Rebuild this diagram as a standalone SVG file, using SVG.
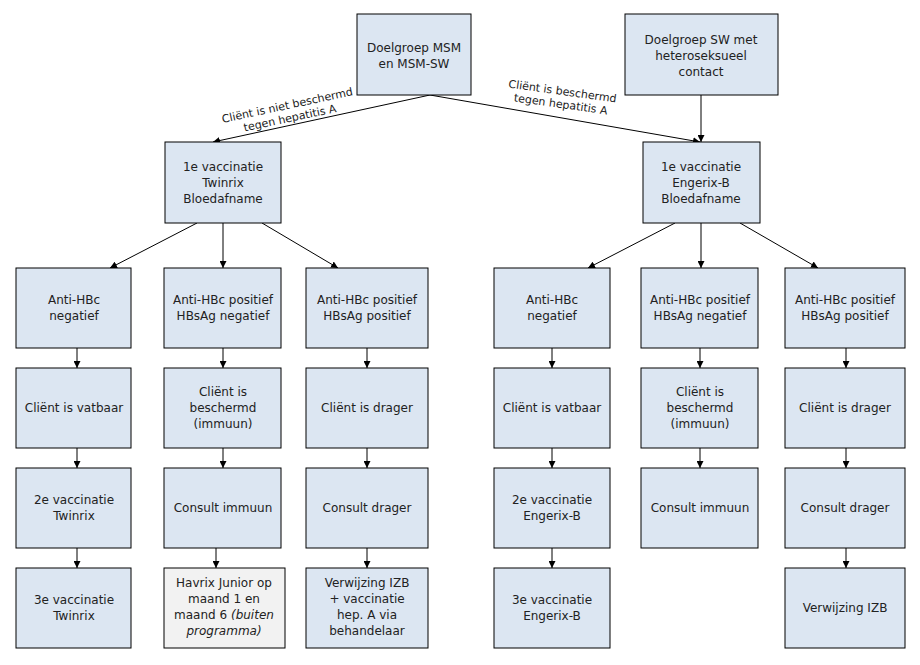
<svg xmlns="http://www.w3.org/2000/svg" width="920" height="665" viewBox="0 0 920 665">
<style>
rect{fill:#dce6f2;stroke:#000;stroke-width:1}
rect.g{fill:#f2f2f2}
text{font-family:"DejaVu Sans",Verdana,sans-serif;font-size:12px;fill:#222;text-anchor:middle}
.lbl{font-size:11px}
#connectors line{stroke:#000;stroke-width:1;marker-end:url(#a)}
</style>
<defs><marker id="a" viewBox="0 0 10 10" refX="10" refY="5" markerWidth="7" markerHeight="7" orient="auto"><path d="M0,0L10,5L0,10z" fill="#000"/></marker></defs>
<rect x="0" y="0" width="920" height="665" style="fill:#fff;stroke:none"/>
<g id="connectors">
<line x1="430" y1="95" x2="213" y2="142"/>
<line x1="430" y1="95" x2="700" y2="142"/>
<line x1="701" y1="95" x2="701" y2="142"/>
<line x1="197" y1="223" x2="110" y2="268"/>
<line x1="223" y1="223" x2="223" y2="268"/>
<line x1="262" y1="223" x2="338" y2="268"/>
<line x1="675" y1="223" x2="588" y2="268"/>
<line x1="701" y1="223" x2="701" y2="268"/>
<line x1="740" y1="223" x2="818" y2="268"/>
<line x1="77" y1="348" x2="77" y2="368"/><line x1="77" y1="448" x2="77" y2="468"/><line x1="77" y1="548" x2="77" y2="568"/>
<line x1="223" y1="348" x2="223" y2="368"/><line x1="223" y1="448" x2="223" y2="468"/><line x1="216" y1="548" x2="216" y2="568"/>
<line x1="367" y1="348" x2="367" y2="368"/><line x1="367" y1="448" x2="367" y2="468"/><line x1="367" y1="548" x2="367" y2="568"/>
<line x1="552" y1="348" x2="552" y2="368"/><line x1="552" y1="448" x2="552" y2="468"/><line x1="552" y1="548" x2="552" y2="568"/>
<line x1="700" y1="348" x2="700" y2="368"/><line x1="700" y1="448" x2="700" y2="468"/>
<line x1="846" y1="348" x2="846" y2="368"/><line x1="846" y1="448" x2="846" y2="468"/><line x1="846" y1="548" x2="846" y2="568"/>
<text class="lbl" transform="translate(288,109) rotate(-12)"><tspan x="0" y="0">Cliënt is niet beschermd</tspan><tspan x="0" y="13">tegen hepatitis A</tspan></text>
<text class="lbl" transform="translate(562,95) rotate(8)"><tspan x="0" y="0">Cliënt is beschermd</tspan><tspan x="0" y="13">tegen hepatitis A</tspan></text>
</g>
<g id="msm"><rect x="357" y="14" width="114" height="81"/><text x="414" y="52">Doelgroep  MSM</text><text x="414" y="68">en MSM-SW</text></g>
<g id="sw"><rect x="625" y="14" width="153" height="81"/><text x="701" y="44">Doelgroep  SW met</text><text x="701" y="60">heteroseksueel</text><text x="701" y="76">contact</text></g>
<g id="twinrix1"><rect x="165" y="142" width="116" height="81"/><text x="223" y="171">1e vaccinatie</text><text x="223" y="187">Twinrix</text><text x="223" y="203">Bloedafname</text></g>
<g id="engerix1"><rect x="643" y="142" width="117" height="81"/><text x="701" y="171">1e vaccinatie</text><text x="701" y="187">Engerix-B</text><text x="701" y="203">Bloedafname</text></g>
<g id="l1"><rect x="16" y="268" width="115" height="80"/><text x="74" y="304">Anti-HBc</text><text x="74" y="320">negatief</text></g>
<g id="l2"><rect x="164" y="268" width="117" height="80"/><text x="223" y="304">Anti-HBc positief</text><text x="223" y="320">HBsAg negatief</text></g>
<g id="l3"><rect x="306" y="268" width="122" height="80"/><text x="367" y="304">Anti-HBc positief</text><text x="367" y="320">HBsAg positief</text></g>
<g id="r1"><rect x="494" y="268" width="116" height="80"/><text x="552" y="304">Anti-HBc</text><text x="552" y="320">negatief</text></g>
<g id="r2"><rect x="641" y="268" width="117" height="80"/><text x="700" y="304">Anti-HBc positief</text><text x="700" y="320">HBsAg negatief</text></g>
<g id="r3"><rect x="785" y="268" width="120" height="80"/><text x="845" y="304">Anti-HBc positief</text><text x="845" y="320">HBsAg positief</text></g>
<g id="l4"><rect x="16" y="368" width="115" height="80"/><text x="74" y="412">Cliënt is vatbaar</text></g>
<g id="l5"><rect x="164" y="368" width="117" height="80"/><text x="223" y="396">Cliënt is</text><text x="223" y="412">beschermd</text><text x="223" y="428">(immuun)</text></g>
<g id="l6"><rect x="306" y="368" width="122" height="80"/><text x="367" y="412">Cliënt is drager</text></g>
<g id="r4"><rect x="494" y="368" width="116" height="80"/><text x="552" y="412">Cliënt is vatbaar</text></g>
<g id="r5"><rect x="641" y="368" width="117" height="80"/><text x="700" y="396">Cliënt is</text><text x="700" y="412">beschermd</text><text x="700" y="428">(immuun)</text></g>
<g id="r6"><rect x="785" y="368" width="120" height="80"/><text x="845" y="412">Cliënt is drager</text></g>
<g id="l7"><rect x="16" y="468" width="115" height="80"/><text x="74" y="504">2e vaccinatie</text><text x="74" y="520">Twinrix</text></g>
<g id="l8"><rect x="164" y="468" width="117" height="80"/><text x="223" y="512">Consult immuun</text></g>
<g id="l9"><rect x="306" y="468" width="122" height="80"/><text x="367" y="512">Consult drager</text></g>
<g id="r7"><rect x="494" y="468" width="116" height="80"/><text x="552" y="504">2e vaccinatie</text><text x="552" y="520">Engerix-B</text></g>
<g id="r8"><rect x="641" y="468" width="117" height="80"/><text x="700" y="512">Consult immuun</text></g>
<g id="r9"><rect x="785" y="468" width="120" height="80"/><text x="845" y="512">Consult drager</text></g>
<g id="l10"><rect x="16" y="568" width="115" height="80"/><text x="74" y="604">3e vaccinatie</text><text x="74" y="620">Twinrix</text></g>
<g id="l11"><rect class="g" x="164" y="568" width="121" height="80"/><text x="224" y="587">Havrix Junior op</text><text x="224" y="603">maand 1 en</text><text x="224" y="619">maand 6 <tspan font-style="italic">(buiten</tspan></text><text x="224" y="635" font-style="italic">programma)</text></g>
<g id="l12"><rect x="306" y="568" width="122" height="80"/><text x="367" y="587">Verwijzing IZB</text><text x="367" y="603">+ vaccinatie</text><text x="367" y="619">hep. A via</text><text x="367" y="635">behandelaar</text></g>
<g id="r10"><rect x="494" y="568" width="116" height="80"/><text x="552" y="604">3e vaccinatie</text><text x="552" y="620">Engerix-B</text></g>
<g id="r12"><rect x="785" y="568" width="120" height="80"/><text x="845" y="612">Verwijzing IZB</text></g>
</svg>
